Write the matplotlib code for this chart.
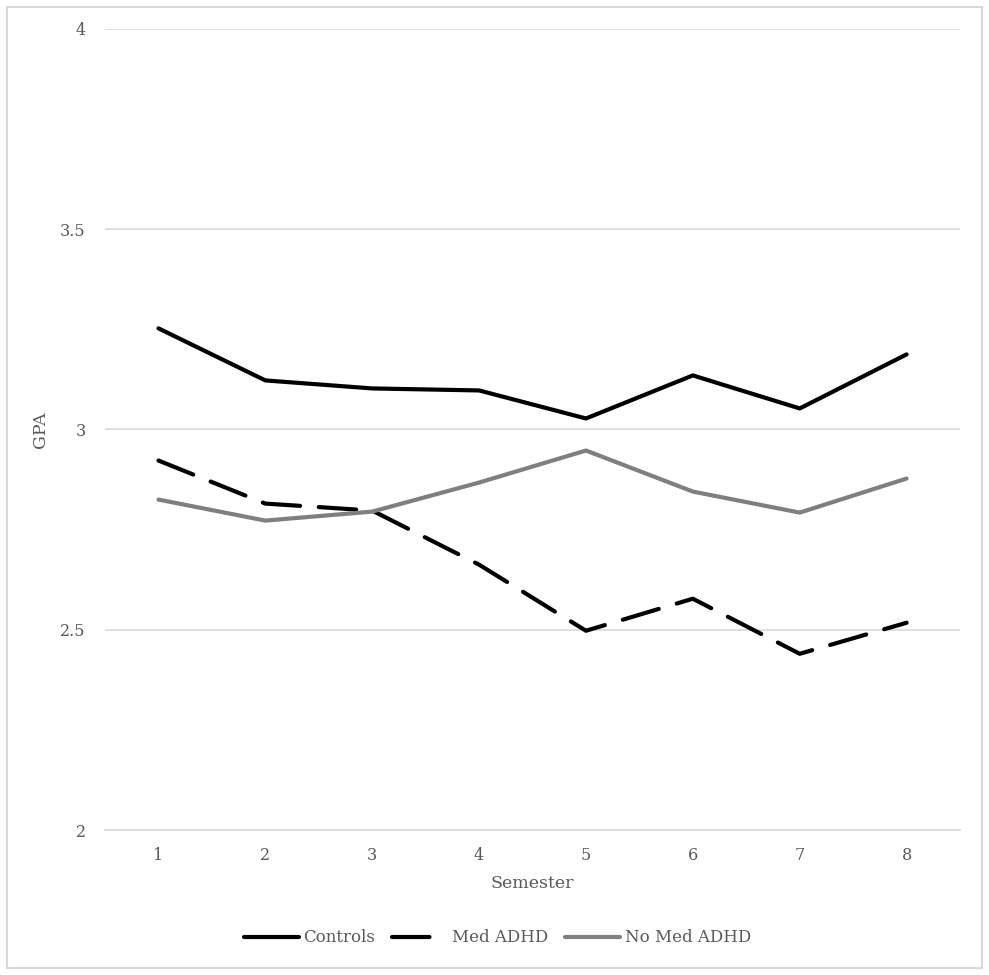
import matplotlib
matplotlib.use("Agg")
import matplotlib.pyplot as plt
from matplotlib.patches import Rectangle

semesters = [1, 2, 3, 4, 5, 6, 7, 8]
controls = [3.2525, 3.1225, 3.1025, 3.0975, 3.0275, 3.135, 3.0525, 3.1875]
med_adhd = [2.9225, 2.815, 2.7975, 2.6625, 2.4975, 2.5775, 2.44, 2.5175]
no_med_adhd = [2.825, 2.7725, 2.795, 2.8675, 2.9475, 2.845, 2.7925, 2.8775]
yticks = [2, 2.5, 3, 3.5, 4]
ytick_labels = ["2", "2.5", "3", "3.5", "4"]

plt.rcParams['font.family'] = ['DejaVu Serif']
txt = '#595959'

fig = plt.figure(figsize=(9.89, 9.75), dpi=100)
ax = fig.add_axes([0.1062, 0.1487, 0.8645, 0.8216])

ax.plot(semesters, controls, color='black', lw=3.0, solid_capstyle='round', label='Controls', zorder=3)
ax.plot(semesters, med_adhd, color='black', lw=3.0, dashes=(9, 4.5), dash_capstyle='round', label='Med ADHD', zorder=3)
ax.plot(semesters, no_med_adhd, color='#7f7f7f', lw=3.0, solid_capstyle='round', label='No Med ADHD', zorder=3)

ax.set_xlim(0.5, 8.5)
ax.set_ylim(2, 4)
ax.set_yticks(yticks)
ax.set_yticklabels(ytick_labels)
ax.set_xticks(semesters)
ax.grid(axis='y', color='#d9d9d9', lw=1.2)
ax.set_axisbelow(True)
for s in ['top', 'right', 'left']:
    ax.spines[s].set_visible(False)
ax.spines['bottom'].set_color('#d9d9d9')
ax.spines['bottom'].set_linewidth(1.2)
ax.tick_params(axis='both', length=0, labelsize=11.5, colors=txt, pad=12)
ax.tick_params(axis='y', pad=14)
ax.set_xlabel('Semester', fontsize=12.5, color=txt, labelpad=8)
ax.set_ylabel('GPA', fontsize=12.5, color=txt, labelpad=8)

leg = fig.legend(loc='center', bbox_to_anchor=(0.503, 0.038), ncol=3, frameon=False,
                 fontsize=12, handlelength=3.3, handletextpad=0.3, columnspacing=1.0)
for t in leg.get_texts():
    t.set_color(txt)

fig.add_artist(Rectangle((0.007, 0.007), 0.986, 0.986, transform=fig.transFigure,
                         fill=False, edgecolor='#d9d9d9', lw=1.5))

fig.savefig('out.png', dpi=100)
